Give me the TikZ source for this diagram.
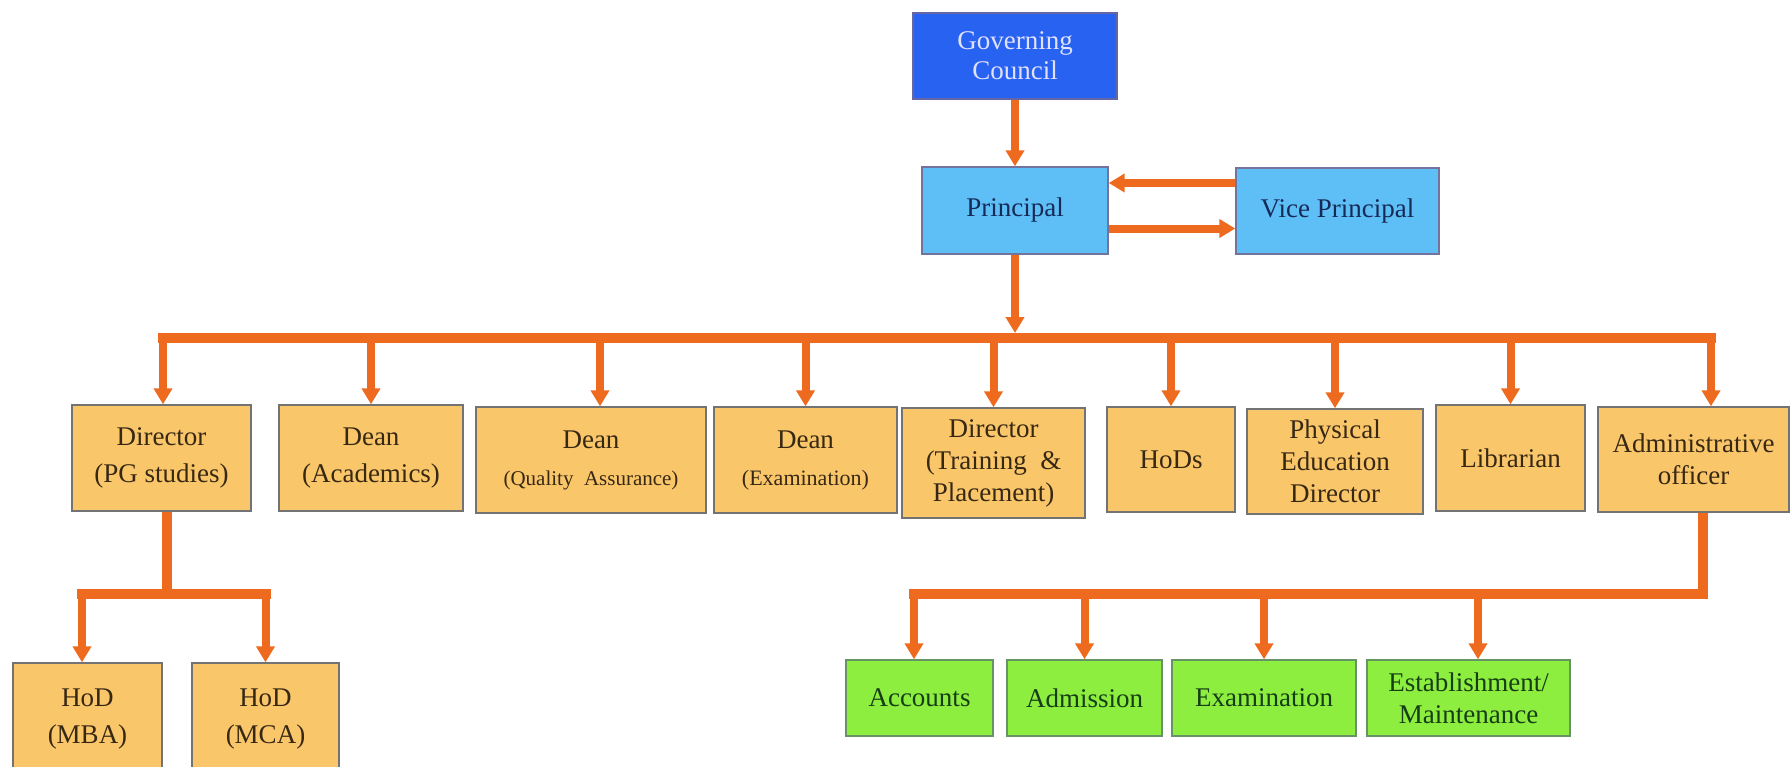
\documentclass[tikz,border=0pt]{standalone}
\usepackage{xcolor}
\usepackage{fontspec}
\setmainfont{Liberation Serif}
\newfontfamily\chartfont{Liberation Serif}
\usepackage{tikz}
\usetikzlibrary{positioning,calc,arrows.meta}

\definecolor{linkorange}{RGB}{238,106,30}
\definecolor{postfill}{RGB}{250,198,106}
\definecolor{posttext}{RGB}{55,40,20}
\definecolor{leadfill}{RGB}{94,191,246}
\definecolor{leadtext}{RGB}{22,42,88}
\definecolor{councilfill}{RGB}{40,98,240}
\definecolor{officefill}{RGB}{142,238,64}
\definecolor{officetext}{RGB}{22,62,22}

\begin{document}
\begin{tikzpicture}[x=0.5pt, y=-0.5pt,
    box/.style={draw=black!55, line width=0.7pt, inner sep=0pt, align=center,
                font=\chartfont\fontsize{13.5}{16}\selectfont},
    council/.style={box, draw=blue!40!black!60, fill=councilfill, text=white!88!blue,
                    font=\chartfont\fontsize{13.5}{15}\selectfont},
    lead/.style={box, draw=blue!30!black!55, fill=leadfill, text=leadtext},
    post/.style={box, fill=postfill, text=posttext},
    office/.style={box, draw=green!30!black!60, fill=officefill, text=officetext},
    twoline/.style={font=\chartfont\fontsize{13.5}{18.5}\selectfont},
    link/.style={linkorange, line width=4pt, -{Triangle[width=9pt,length=8pt]}},
    bar/.style={linkorange, line width=5pt},
]
    \useasboundingbox (0,0) rectangle (1792,766);
    \clip (0,0) rectangle (1792,766);
    \fill [white] (0,0) rectangle (1792,766);

    % Council, principal, vice principal
    \node [council, minimum width=102pt, minimum height=43pt] (gc) at (1015,56) {Governing\\Council};
    \node [lead, minimum width=93pt, minimum height=43.5pt] (prin) at (1015,210.5) {Principal};
    \node [lead, minimum width=101.5pt, minimum height=43pt] (vice) at (1337.5,211) {Vice Principal};

    % Second level
    \node [post, twoline, minimum width=89.5pt, minimum height=53pt] (dirpg) at (161.5,458) {Director\\(PG studies)};
    \node [post, twoline, minimum width=92pt, minimum height=53pt] (acad) at (371,458) {Dean\\(Academics)};
    \node [post, twoline, minimum width=115pt, minimum height=53pt] (qa) at (591,460)
        {Dean\\{\fontsize{10.5}{13}\selectfont (Quality\ \ Assurance)}};
    \node [post, twoline, minimum width=91.5pt, minimum height=53pt] (exam) at (805.5,460)
        {Dean\\{\fontsize{11}{13}\selectfont (Examination)}};
    \node [post, minimum width=91.5pt, minimum height=55pt] (tp) at (993.5,463) {Director\\(Training \ \&\\Placement)};
    \node [post, minimum width=64pt, minimum height=52.5pt] (hods) at (1171,459.5) {HoDs};
    \node [post, minimum width=88pt, minimum height=52.5pt] (ped) at (1335,461.5) {Physical\\Education\\Director};
    \node [post, minimum width=74.5pt, minimum height=53pt] (lib) at (1510.5,458) {Librarian};
    \node [post, minimum width=95.5pt, minimum height=52.5pt] (admin) at (1693.5,459.5) {Administrative\\officer};

    % Under PG studies
    \node [post, twoline, minimum width=74.5pt, minimum height=56pt] (mba) at (87.5,719) {HoD\\(MBA)};
    \node [post, twoline, minimum width=73.5pt, minimum height=56pt] (mca) at (265.5,719) {HoD\\(MCA)};

    % Office sections
    \node [office, minimum width=73.5pt, minimum height=38pt] (acc) at (919.5,698) {Accounts};
    \node [office, minimum width=77.5pt, minimum height=38pt] (adm) at (1084.5,698) {Admission};
    \node [office, minimum width=92pt, minimum height=38pt] (exm) at (1264,698) {Examination};
    \node [office, minimum width=101.5pt, minimum height=38pt] (est) at (1468.5,698) {Establishment/\\Maintenance};

    % Top links
    \draw [link] (gc.south) -- (prin.north);
    \draw [link] ([yshift=14pt]vice.west) -- ([yshift=14pt]vice.west -| prin.east);
    \draw [link] ([yshift=-9pt]prin.east) -- ([yshift=-9pt]prin.east -| vice.west);

    % Main bus
    \coordinate (hub) at (1015,338);
    \draw [link] (prin.south) -- ([yshift=2.5pt]hub);
    \draw [bar, line cap=rect] ([xshift=0.75pt]dirpg.north |- hub) -- ([xshift=8.75pt]admin.north |- hub);
    \foreach \n/\s in {dirpg/0.75, acad/0, qa/4.5, exam/0, tp/0, hods/0, ped/0, lib/0, admin/8.75}
        \draw [link] ([xshift=\s pt]\n.north |- hub) -- ([xshift=\s pt]\n.north);

    % PG studies branch
    \coordinate (pgfork) at (167,594);
    \draw [bar] (dirpg.south -| pgfork) -- (pgfork);
    \draw [bar, line cap=rect] ([xshift=-2.75pt]mba.north |- pgfork) -- (mca.north |- pgfork);
    \draw [link] ([xshift=-2.75pt]mba.north |- pgfork) -- ([xshift=-2.75pt]mba.north);
    \draw [link] (mca.north |- pgfork) -- (mca.north);

    % Administrative branch
    \coordinate (adfork) at (1703,594);
    \draw [bar] (admin.south -| adfork) -- (adfork);
    \draw [bar, line cap=rect] ([xshift=-2.75pt]acc.north |- adfork) -- (adfork);
    \foreach \n/\s in {acc/-2.75, adm/0, exm/0, est/4.75}
        \draw [link] ([xshift=\s pt]\n.north |- adfork) -- ([xshift=\s pt]\n.north);
\end{tikzpicture}
\end{document}
